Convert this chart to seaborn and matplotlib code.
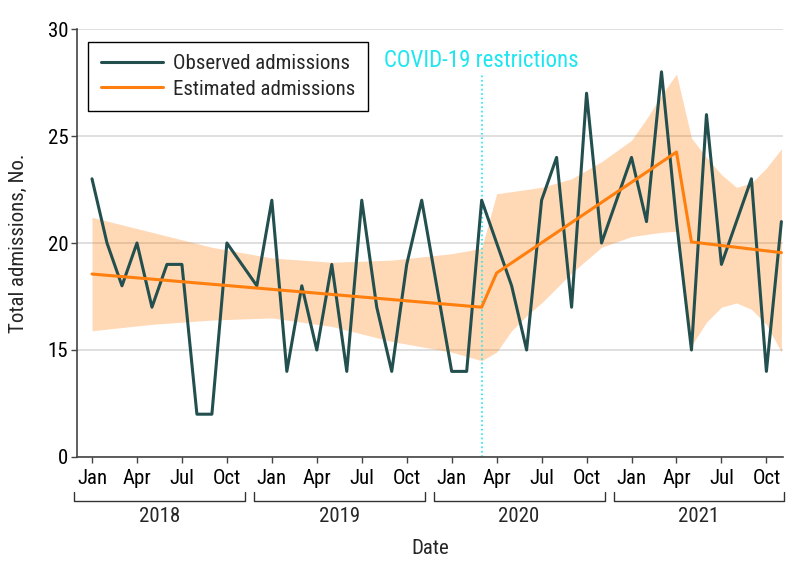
import numpy as np
import pandas as pd
import seaborn as sns
import matplotlib.pyplot as plt
from matplotlib import font_manager

# monthly observed admissions, Jan 2018 - Nov 2021
observed = [23, 20, 18, 20, 17, 19, 19, 12, 12, 20, 19, 18,
            22, 14, 18, 15, 19, 14, 22, 17, 14, 19, 22, 18,
            14, 14, 22, 20, 18, 15, 22, 24, 17, 27, 20, 22,
            24, 21, 28, 21, 15, 26, 19, 21, 23, 14, 21]
month_labels = ["Jan", "Apr", "Jul", "Oct"]
years = ["2018", "2019", "2020", "2021"]

# estimated (segmented regression) line, breakpoints only (month index)
est_month = [0, 26, 27, 39, 40, 46]
est_value = [18.55, 17.0, 18.6, 24.25, 20.05, 19.55]

# confidence band
band_m = [0, 4, 8, 12, 16, 20, 24, 26,
          27, 28, 29, 30, 32, 34, 36, 37, 38, 39,
          40, 41, 42, 43, 44, 45, 46]
band_hi = [21.2, 20.5, 19.8, 19.3, 19.1, 19.2, 19.5, 19.75,
           22.3, 22.4, 22.5, 22.6, 23.0, 23.8, 24.8, 25.8, 26.9, 27.9,
           24.9, 24.0, 23.2, 22.6, 22.8, 23.5, 24.4]
band_lo = [15.9, 16.2, 16.4, 16.5, 16.1, 15.4, 14.9, 14.5,
           14.9, 15.9, 16.6, 17.2, 18.6, 19.8, 20.3, 20.4, 20.5, 20.55,
           15.2, 16.3, 17.0, 17.2, 16.9, 16.2, 14.9]

covid_month = 26

sns.set_theme(style="white")

# pick a narrow face if one is installed
installed = {f.name for f in font_manager.fontManager.ttflist}
narrow = [f for f in ["Liberation Sans Narrow", "Roboto Condensed", "Open Sans Condensed",
                      "Noto Sans Condensed", "DejaVu Sans Condensed"] if f in installed]
if narrow:
    plt.rcParams['font.family'] = [narrow[0], 'DejaVu Sans']
else:
    plt.rcParams['font.family'] = ['DejaVu Sans']

fs = 15

df_obs = pd.DataFrame({"month": np.arange(len(observed)), "admissions": observed})
df_est = pd.DataFrame({"month": est_month, "admissions": est_value})

fig, ax = plt.subplots(figsize=(7.94, 5.77), dpi=100)
fig.subplots_adjust(left=0.097, right=0.986, bottom=0.208, top=0.9497)

ax.fill_between(band_m, band_lo, band_hi, color="#ff7f0e", alpha=0.3, lw=0, zorder=1)

sns.lineplot(data=df_obs, x="month", y="admissions", color="#23504f", lw=2.2,
             label="Observed admissions", ax=ax, zorder=3)
sns.lineplot(data=df_est, x="month", y="admissions", color="#ff7f0e", lw=2.2,
             label="Estimated admissions", ax=ax, zorder=4)

ax.vlines(covid_month, 10, 27.85, colors="#1ee6f0", linestyles=":", lw=1.2, zorder=2)
ax.text(covid_month, 28.55, "COVID-19 restrictions", color="#1ee6f0", fontsize=16.5,
        ha="center", va="center")

ax.set_xlim(-1, 46.1)
ax.set_ylim(10, 30)
ax.set_yticks([10, 15, 20, 25, 30])
ax.set_yticklabels(["0", "15", "20", "25", "30"])
ax.set_xticks(np.arange(0, 48, 3))
ax.set_xticklabels(month_labels * len(years))
ax.grid(axis="y", color="#d9d9d9", lw=1.2)
ax.set_axisbelow(True)
for s in ["top", "right"]:
    ax.spines[s].set_visible(False)
for s in ["left", "bottom"]:
    ax.spines[s].set_color("#444444")
    ax.spines[s].set_linewidth(1.2)
ax.tick_params(axis="both", direction="out", length=4.3, width=1, color="#444444",
               labelsize=fs, labelcolor="black", left=True, bottom=True)
ax.tick_params(axis="x", pad=4)
ax.tick_params(axis="y", pad=2)

# year brackets under the month labels
trans = ax.get_xaxis_transform()
for k, yr in enumerate(years):
    x0, x1 = 12 * k - 1.2, 12 * k + 10.2
    ax.plot([x0, x0, x1, x1], [-0.082, -0.102, -0.102, -0.082], color="#333333",
            lw=1, transform=trans, clip_on=False)
    ax.text((x0 + x1) / 2, -0.139, yr, transform=trans, ha="center", va="center",
            fontsize=fs)

ax.set_xlabel("Date", fontsize=fs)
ax.xaxis.set_label_coords(0.5, -0.213)
ax.xaxis.label.set_va("center")
ax.set_ylabel("Total admissions, No.", fontsize=fs)
ax.yaxis.set_label_coords(-0.083, 0.5)
ax.yaxis.label.set_va("center")

leg = ax.legend(loc="upper left", bbox_to_anchor=(0.0156, 0.97), borderaxespad=0,
                fontsize=fs, frameon=True, fancybox=False, edgecolor="black",
                framealpha=1, handlelength=3.0, borderpad=0.6, labelspacing=0.3,
                handletextpad=0.5)
leg.get_frame().set_linewidth(1)

fig.savefig("out.png", dpi=100)
